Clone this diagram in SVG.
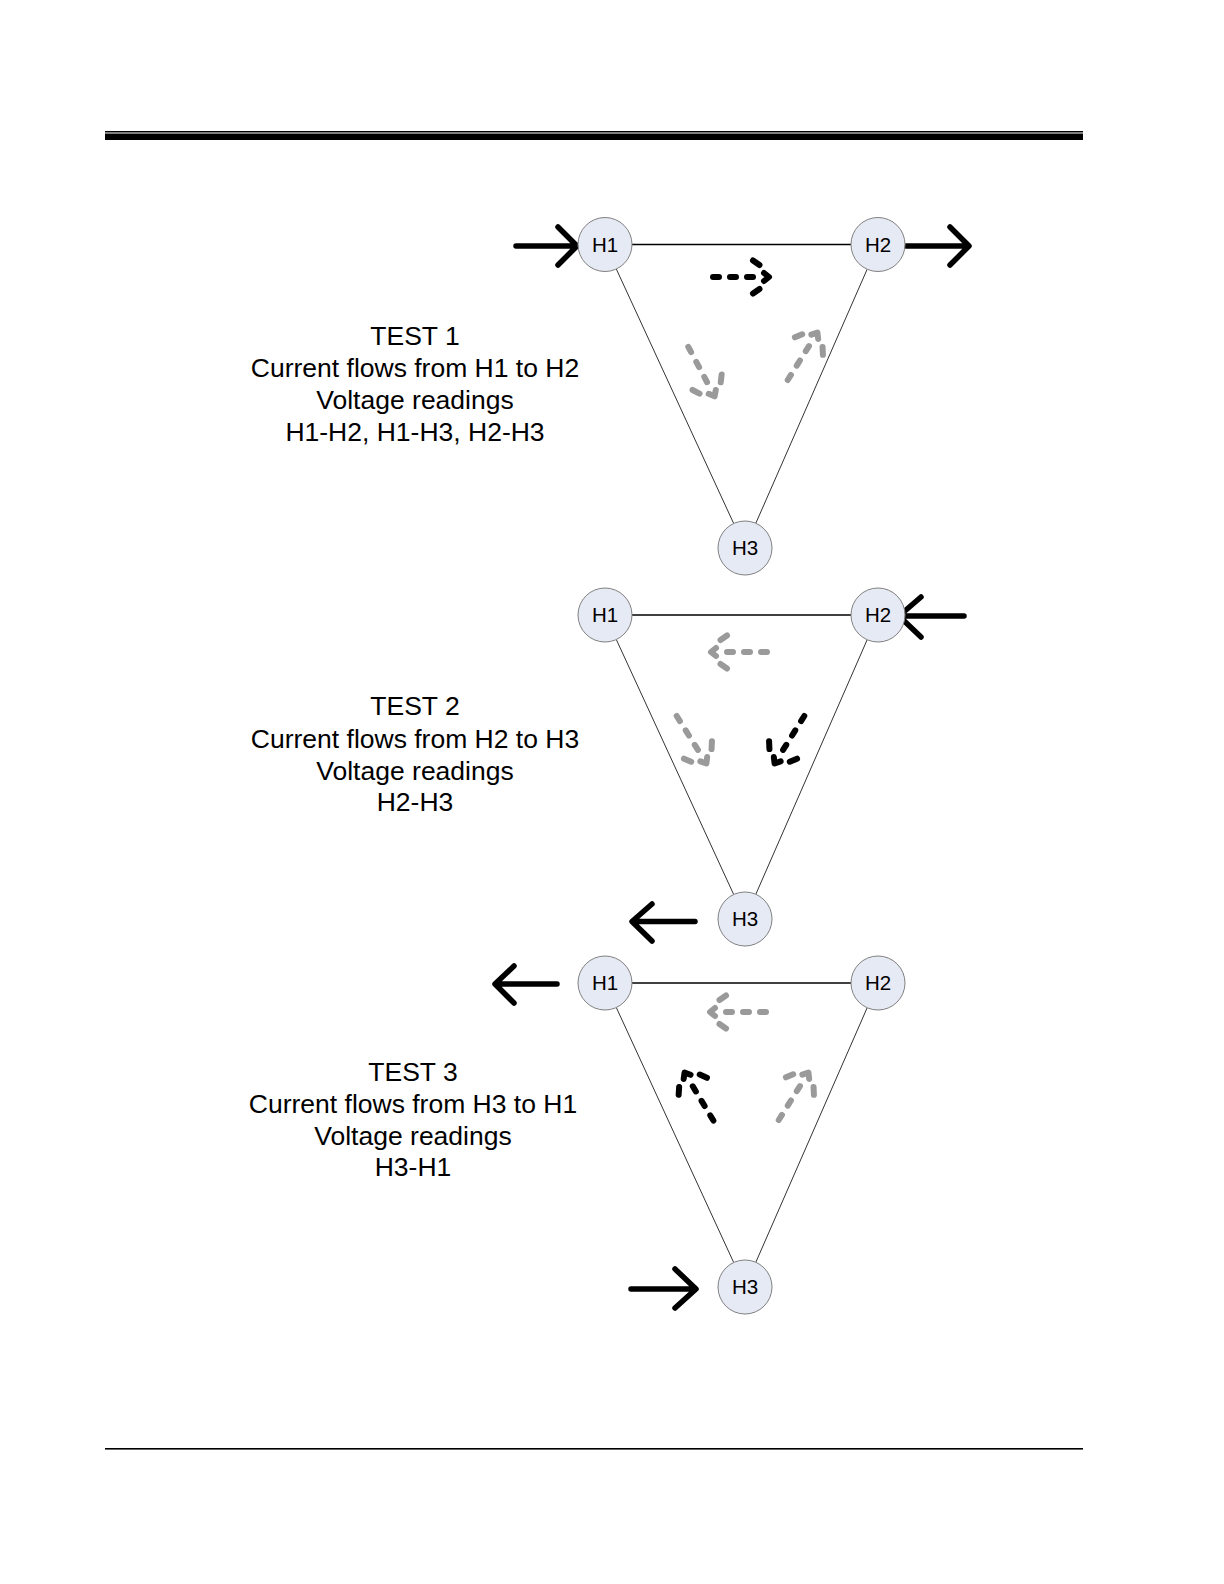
<svg xmlns="http://www.w3.org/2000/svg" xmlns:xlink="http://www.w3.org/1999/xlink" width="1224" height="1584" viewBox="0 0 1224 1584">
<style>
.node circle{fill:#e6eaf5;stroke:#808080;stroke-width:1}
.node text{font-family:"Liberation Sans",Arial,sans-serif;font-size:20.5px;fill:#000;text-anchor:middle}
.lbl{font-family:"Liberation Sans",Arial,sans-serif;font-size:26.5px;fill:#000;text-anchor:middle}
.top{stroke:#000;stroke-width:1.6;fill:none}
.side{stroke:#333;stroke-width:1;fill:none}
.solid{stroke:#000;stroke-width:5.5;fill:none;stroke-linecap:round;stroke-linejoin:round}
.blk{stroke:#000}
.gry{stroke:#9a9a9a}
</style>
<defs>
<g id="darrow" fill="none" stroke-width="6" stroke-linecap="round" stroke-linejoin="round">
<path d="M-8,-4 L-3,0 L-8,4"/>
<path d="M-12.5,-12 L-19,-16.5 M-12.5,12 L-19,16.5"/>
<path d="M-19,0 H-25 M-36,0 H-42 M-53,0 H-59"/>
</g>
</defs>
<rect x="105" y="131" width="978" height="1.5" fill="#000"/>
<rect x="105" y="133.5" width="978" height="6.5" fill="#000"/>
<rect x="105" y="1448" width="978" height="1.6" fill="#000"/>

<g id="connectors">
<!-- test 1 -->
<line class="top" x1="632" y1="244.5" x2="851" y2="244.5"/>
<line class="side" x1="616.3" y1="269" x2="733.7" y2="523.5"/>
<line class="side" x1="867.2" y1="269.2" x2="755.8" y2="523.3"/>
<path class="solid" d="M516,246 H576 M558,227 L577,246 L558,265"/>
<path class="solid" d="M906,246 H968 M950,227 L969,246 L950,265"/>
<use xlink:href="#darrow" class="blk" transform="translate(772,277)"/>
<use xlink:href="#darrow" class="gry" transform="translate(716,399) rotate(62)"/>
<use xlink:href="#darrow" class="gry" transform="translate(819,330) rotate(-58)"/>
<!-- test 2 -->
<line class="top" x1="632" y1="615" x2="851" y2="615"/>
<line class="side" x1="616.3" y1="639.5" x2="733.7" y2="894.5"/>
<line class="side" x1="867.2" y1="639.7" x2="755.8" y2="894.3"/>
<path class="solid" d="M964,616 H900 M921,597 L899,616 L921,637"/>
<path class="solid" d="M695,921.5 H633 M652,904 L632,921.5 L652,941"/>
<use xlink:href="#darrow" class="gry" transform="translate(708,652) rotate(180)"/>
<use xlink:href="#darrow" class="gry" transform="translate(708,766) rotate(58)"/>
<use xlink:href="#darrow" class="blk" transform="translate(773,766) rotate(122)"/>
<!-- test 3 -->
<line class="top" x1="632" y1="983" x2="851" y2="983"/>
<line class="side" x1="616.3" y1="1007.5" x2="733.7" y2="1262.5"/>
<line class="side" x1="867.2" y1="1007.7" x2="755.8" y2="1262.3"/>
<path class="solid" d="M557,984 H496 M514,966 L495,984 L514,1003"/>
<path class="solid" d="M631,1289 H695 M675,1269 L696,1289 L675,1308"/>
<use xlink:href="#darrow" class="gry" transform="translate(707,1012) rotate(180)"/>
<use xlink:href="#darrow" class="blk" transform="translate(683,1070) rotate(-121)"/>
<use xlink:href="#darrow" class="gry" transform="translate(810,1070) rotate(-58)"/>
</g>

<g id="t1-h1" class="node"><circle cx="605" cy="244.5" r="27"/><text x="605" y="251.5">H1</text></g>
<g id="t1-h2" class="node"><circle cx="878" cy="244.5" r="27"/><text x="878" y="251.5">H2</text></g>
<g id="t1-h3" class="node"><circle cx="745" cy="548" r="27"/><text x="745" y="555">H3</text></g>
<g id="t2-h1" class="node"><circle cx="605" cy="615" r="27"/><text x="605" y="622">H1</text></g>
<g id="t2-h2" class="node"><circle cx="878" cy="615" r="27"/><text x="878" y="622">H2</text></g>
<g id="t2-h3" class="node"><circle cx="745" cy="919" r="27"/><text x="745" y="926">H3</text></g>
<g id="t3-h1" class="node"><circle cx="605" cy="983" r="27"/><text x="605" y="990">H1</text></g>
<g id="t3-h2" class="node"><circle cx="878" cy="983" r="27"/><text x="878" y="990">H2</text></g>
<g id="t3-h3" class="node"><circle cx="745" cy="1287" r="27"/><text x="745" y="1294">H3</text></g>

<g id="test1-label" class="lbl">
<text x="415" y="345">TEST 1</text>
<text x="415" y="377">Current flows from H1 to H2</text>
<text x="415" y="409">Voltage readings</text>
<text x="415" y="441">H1-H2, H1-H3, H2-H3</text>
</g>
<g id="test2-label" class="lbl">
<text x="415" y="715">TEST 2</text>
<text x="415" y="748">Current flows from H2 to H3</text>
<text x="415" y="780">Voltage readings</text>
<text x="415" y="811">H2-H3</text>
</g>
<g id="test3-label" class="lbl">
<text x="413" y="1081">TEST 3</text>
<text x="413" y="1113">Current flows from H3 to H1</text>
<text x="413" y="1145">Voltage readings</text>
<text x="413" y="1176">H3-H1</text>
</g>
</svg>
